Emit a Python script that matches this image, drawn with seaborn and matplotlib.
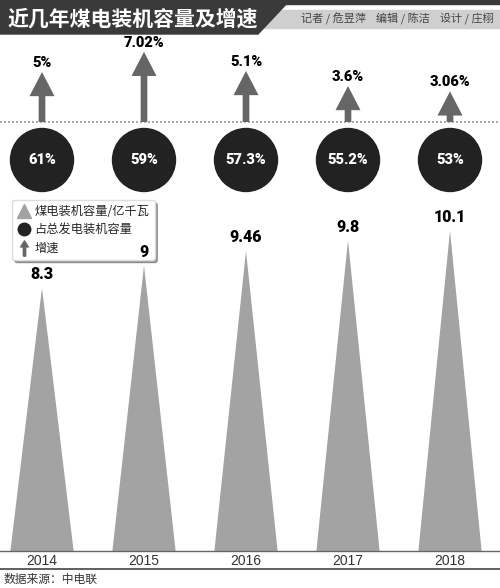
import pandas as pd
import matplotlib.pyplot as plt
import seaborn as sns
from matplotlib.lines import Line2D
from matplotlib.patches import Polygon
from matplotlib.path import Path

# data
years = ["2014", "2015", "2016", "2017", "2018"]
capacity = [8.3, 9, 9.46, 9.8, 10.1]          # 亿千瓦
share = ["61%", "59%", "57.3%", "55.2%", "53%"]  # 占总发电装机容量
growth = [5, 7.02, 5.1, 3.6, 3.06]              # 增速 %
growth_labels = ["5%", "7.02%", "5.1%", "3.6%", "3.06%"]

sns.set_theme(style="white")
plt.rcParams['font.family'] = ['Noto Sans CJK SC', 'DejaVu Sans']
num_font = ['Roboto', 'DejaVu Sans']

W, H = 500, 588
fig = plt.figure(figsize=(5, 5.88), dpi=100)
fig.patch.set_facecolor("white")

def fy(px):
    return 1 - px / H

xlim = (-42 / 102, (500 - 42) / 102)
tri_color = "#a3a3a3"
arrow_color = "#666666"
dot_color = "#222222"

# title banner
fig.add_artist(Polygon([[0, fy(0)], [1, fy(0)], [1, fy(4)], [0, fy(4)]],
                       closed=True, transform=fig.transFigure, color="#3a3a3a"))
fig.add_artist(Polygon([[280 / W, fy(10)], [1, fy(10)], [1, fy(28)], [262 / W, fy(28)]],
                       closed=True, transform=fig.transFigure, color="#cfcfcf"))
fig.add_artist(Polygon([[0, fy(0)], [290 / W, fy(0)], [258 / W, fy(34)], [0, fy(34)]],
                       closed=True, transform=fig.transFigure, color="#3a3a3a"))
fig.text(8 / W, fy(19), "近几年煤电装机容量及增速", color="white", fontsize=15,
         fontweight="bold", va="center", ha="left")
fig.text(494 / W, fy(19), "记者 / 危昱萍    编辑 / 陈洁    设计 / 庄栩", color="#444444",
         fontsize=8, va="center", ha="right")

# growth arrows + share circles
ax2 = fig.add_axes([0, fy(200), 1, 160 / H])
ax2.set_xlim(*xlim)
ax2.set_ylim(-7.8, 8.2)
ax2.axis("off")
ax2.axhline(0, color="#999999", lw=1.2, ls=(0, (1.2, 1.2)))
for i, g in enumerate(growth):
    ax2.annotate("", xy=(i, g), xytext=(i, 0),
                 arrowprops=dict(arrowstyle="simple,head_length=1.45,head_width=1.5,tail_width=0.4",
                                 color=arrow_color, lw=0, shrinkA=0, shrinkB=0))
    ax2.annotate(growth_labels[i], xy=(i, g), xytext=(0, 1.5), textcoords="offset points",
                 ha="center", va="bottom", fontsize=10.5, fontweight="heavy",
                 family=num_font, color="black")
df_share = pd.DataFrame({"x": range(len(years)), "y": [-3.8] * len(years)})
sns.scatterplot(data=df_share, x="x", y="y", ax=ax2, s=2150, color=dot_color,
                edgecolor="none", legend=False)
for i, s in enumerate(share):
    ax2.text(i, -3.8, s, color="white", ha="center", va="center", fontsize=10.5,
             fontweight="heavy", family=num_font)

# capacity triangles
ax = fig.add_axes([0, fy(551), 1, 351 / H])
ax.set_xlim(*xlim)
ax.set_ylim(0, 11.07)
for i, v in enumerate(capacity):
    ax.fill([i - 0.31, i, i + 0.31], [0, v, 0], color=tri_color, lw=0, zorder=1)
    ax.annotate(f"{v:g}", xy=(i, v), xytext=(0, 4), textcoords="offset points",
                ha="center", va="bottom", fontsize=11.5, fontweight="heavy",
                family=num_font, color="black", zorder=7)
ax.set_xticks(range(len(years)))
ax.set_xticklabels(years, fontsize=10, color="#333333", family=['Liberation Sans', 'DejaVu Sans'])
ax.set_yticks([])
ax.tick_params(axis="x", length=0, pad=2)
for sp in ["top", "left", "right"]:
    ax.spines[sp].set_visible(False)
ax.spines["bottom"].set_color("#666666")
ax.spines["bottom"].set_linewidth(1)
ax.patch.set_alpha(0)

fig.add_artist(Line2D([0, 1], [fy(569), fy(569)], transform=fig.transFigure,
                      color="#444444", lw=1.2))
fig.text(4 / W, fy(579), "数据来源：中电联", fontsize=8.5, color="#333333",
         va="center", ha="left")

# legend
arrow_marker = Path([(-0.15, -1), (0.15, -1), (0.15, 0.2), (0.5, 0.2), (0, 1),
                     (-0.5, 0.2), (-0.15, 0.2), (-0.15, -1)])
handles = [
    Line2D([], [], ls="none", marker="^", markersize=10, color=tri_color),
    Line2D([], [], ls="none", marker="o", markersize=9, color=dot_color),
    Line2D([], [], ls="none", marker=arrow_marker, markersize=11, color=arrow_color),
]
labels = ["煤电装机容量/亿千瓦", "占总发电装机容量", "增速"]
leg = ax.legend(handles, labels, loc="upper left", bbox_to_anchor=(12 / W, fy(200)),
                bbox_transform=fig.transFigure,
                fontsize=8.8, frameon=True, fancybox=True, shadow=True,
                handletextpad=0.3, labelspacing=0.45, borderpad=0.4, handlelength=1.15,
                borderaxespad=0)
leg.set_zorder(5)
leg.get_frame().set_edgecolor("#dddddd")
leg.get_frame().set_facecolor("white")

fig.savefig("out.png", dpi=100)
